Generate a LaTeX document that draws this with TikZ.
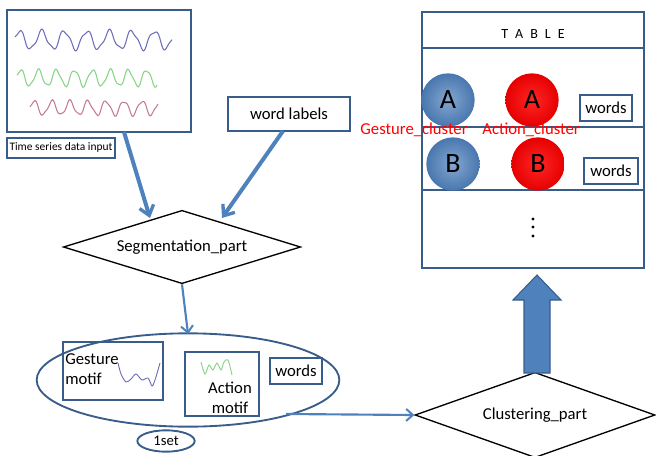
\documentclass[tikz,border=0pt]{standalone}
\usepackage{fontspec}
\setmainfont{Carlito}
\usetikzlibrary{arrows.meta,shapes.geometric}
\definecolor{frameblue}{HTML}{385D8A}
\definecolor{arrowblue}{HTML}{4F81BD}
\definecolor{tablered}{HTML}{FF0000}
\definecolor{waveblue}{HTML}{6E6EB8}
\definecolor{wavegreen}{HTML}{86D486}
\definecolor{wavepink}{HTML}{C47A96}
\tikzset{
  frame/.style={draw=frameblue,line width=1.6pt},
  smallbox/.style={draw=frameblue,line width=1.3pt,fill=white,inner sep=2pt},
  diam/.style={draw=black,line width=1pt,fill=white},
  thickarrow/.style={draw=arrowblue,line width=3pt,-{Straight Barb[length=7pt,width=11pt,line width=2.5pt]}},
  thinarrow/.style={draw=arrowblue,line width=1.6pt,-{Straight Barb[length=5pt,width=9pt,line width=1.5pt]}},
  txt/.style={font=\fontsize{12.5}{15}\selectfont},
  bluecirc/.style={circle,minimum size=40pt,inner sep=0pt,inner color=arrowblue!70!white,outer color=arrowblue!92!black,font=\fontsize{21}{23}\selectfont},
  redcirc/.style={circle,minimum size=40pt,inner sep=0pt,inner color=tablered!85!white,outer color=tablered!90!black,font=\fontsize{21}{23}\selectfont},
  redlabel/.style={text=tablered,font=\fontsize{12.5}{14}\selectfont},
  dotmark/.style={circle,fill=black,inner sep=0pt,minimum size=2.6pt}
}
\begin{document}
\begin{tikzpicture}[x=0.75pt,y=-0.75pt]
\useasboundingbox (0,0) rectangle (656,456);
% time series box
\node[frame,minimum width=138pt,minimum height=91.5pt,inner sep=0pt] (ts) at (99,71) {};
\draw[color=waveblue,line width=0.8pt,smooth,domain=0:157,samples=140]
  plot ({15+\x},{40+9*sin(\x*16+200)+2*sin(\x*37)});
\draw[color=wavegreen,line width=0.8pt,smooth,domain=0:140,samples=120]
  plot ({17+\x},{78+8*sin(\x*20+200)+1.5*sin(\x*45)});
\draw[color=wavepink,line width=0.8pt,smooth,domain=0:128,samples=120]
  plot ({30+\x},{108+7*sin(\x*20+190)+1.5*sin(\x*43)});
\node[smallbox,font=\fontsize{8.6}{9}\selectfont,anchor=north west,minimum height=15pt] (tslabel) at (6,137) {Time series data input};
% word labels
\node[smallbox,txt,minimum width=91pt,minimum height=25pt] (wl) at (289,114) {word labels};
% segmentation diamond
\node[diam,txt,diamond,aspect=3.25,minimum width=178pt,minimum height=55pt,inner sep=0pt] (seg) at (182,247) {Segmentation\_part};
\coordinate (tsout) at (124,132);
\coordinate (segin1) at (150,218);
\coordinate (wlout) at (283,131);
\coordinate (segin2) at (222,218);
\draw[thickarrow] (tsout) -- (segin1);
\draw[thickarrow] (wlout) -- (segin2);
% big ellipse
\node[draw=frameblue,line width=1.4pt,ellipse,minimum width=227pt,minimum height=70pt,inner sep=0pt] (set) at (188,380) {};
\coordinate (setin) at (188,334);
\draw[thinarrow] (seg.south) -- (setin);
% gesture motif
\node[frame,minimum width=75pt,minimum height=43pt,inner sep=0pt] (gm) at (113,371) {};
\node[txt,anchor=north west,align=left,inner sep=0pt] (gmt) at (65,353) {Gesture\\motif};
\draw[color=waveblue,line width=0.7pt,smooth] plot coordinates {(118,363) (121,374) (126,382) (131,379) (136,374) (142,380) (148,378) (152,386) (155,380) (158,370) (160,363)};
% action motif
\node[frame,minimum width=56pt,minimum height=48pt,inner sep=0pt] (am) at (222,384) {};
\draw[color=wavegreen,line width=0.7pt,smooth] plot coordinates {(201,362) (205,374) (209,365) (213,370) (217,363) (221,370) (224,362) (228,360) (232,375)};
\node[txt,align=center,inner sep=0pt] (amt) at (230,398) {Action\\motif};
% words
\node[smallbox,txt,minimum width=39pt,minimum height=19pt,inner sep=1pt] (w0) at (296,371) {words};
% 1set
\node[draw=frameblue,line width=1.4pt,ellipse,minimum width=43pt,minimum height=16pt,inner sep=0pt,font=\fontsize{11}{12}\selectfont] (oneset) at (166,441) {1set};
% clustering diamond
\node[diam,txt,diamond,aspect=2.85,minimum width=180pt,minimum height=64pt,inner sep=0pt] (clu) at (535,415) {Clustering\_part};
\coordinate (setout) at (286,414);
\draw[thinarrow] (setout) -- (clu.west);
% big up arrow
\fill[arrowblue,draw=frameblue,line width=0.8pt] (524,373) -- (524,300) -- (513,300) -- (537,275) -- (561,300) -- (550,300) -- (550,373) -- cycle;
% table
\node[frame,minimum width=166pt,minimum height=192pt,inner sep=0pt] (table) at (533,140) {};
\draw[frameblue,line width=1.6pt] (422,48) -- (644,48);
\draw[frameblue,line width=1.6pt] (422,127) -- (644,127);
\draw[frameblue,line width=1.6pt] (422,190) -- (644,190);
\node[font=\fontsize{10.5}{12}\selectfont] (tabtitle) at (533,34) {T\,\,\,A\,\,\,B\,\,\,L\,\,\,E};
\node[bluecirc] (ga) at (448,100) {A};
\node[redcirc] (aa) at (532,100) {A};
\node[bluecirc] (gb) at (453,164) {B};
\node[redcirc] (ab) at (538,164) {B};
\node[smallbox,txt,minimum width=39pt,minimum height=19pt,inner sep=1pt] (w1) at (606,108) {words};
\node[smallbox,txt,minimum width=40pt,minimum height=19pt,inner sep=1pt] (w2) at (611,171) {words};
\node[redlabel] (gcl) at (414,130) {Gesture\_cluster};
\node[redlabel] (acl) at (531,130) {Action\_cluster};
\node[dotmark] (d1) at (533,219) {};
\node[dotmark] (d2) at (533,227) {};
\node[dotmark] (d3) at (533,236) {};
\end{tikzpicture}
\end{document}
